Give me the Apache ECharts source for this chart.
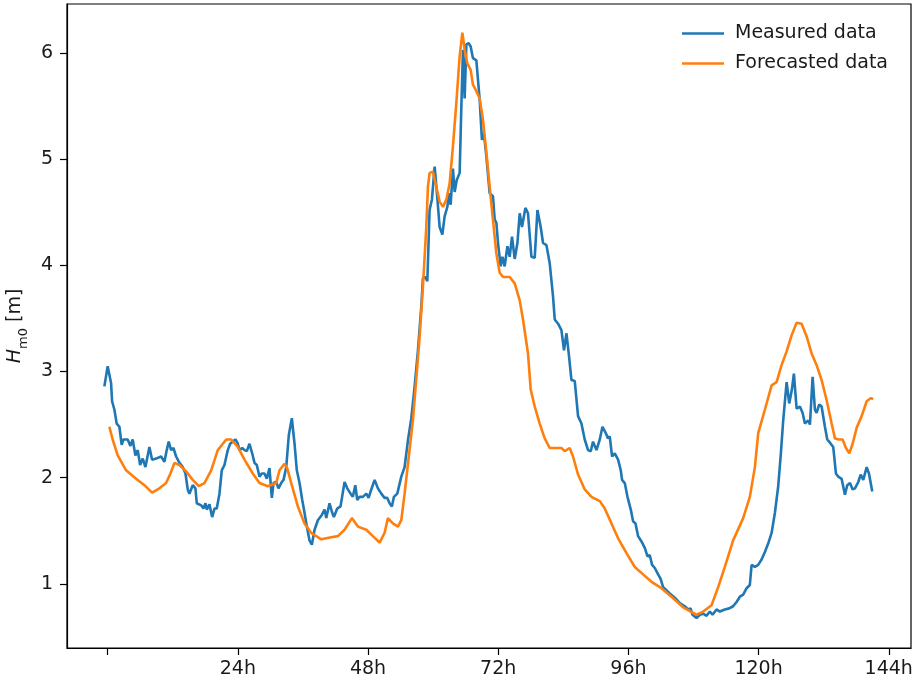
<!DOCTYPE html>
<html>
<head>
<meta charset="utf-8">
<script src="https://cdn.jsdelivr.net/npm/echarts@6/dist/echarts.min.js"></script>
<style>
  html, body { margin: 0; padding: 0; background: #fff; }
  #chart { width: 914px; height: 688px; }
</style>
</head>
<body>
<div id="chart"></div>
<script>
// ---- Data (hours, significant wave height Hm0 in m) ----
const measuredHours = [
  -0.61, 0.00, 0.63, 0.81, 1.24, 1.66, 2.16, 2.58, 2.90, 3.69, 4.19, 4.61, 5.11, 5.54, 5.98, 6.46, 6.96, 7.69, 8.19, 8.93,
  9.85, 10.46, 10.89, 11.25, 11.70, 12.12, 12.62, 13.23, 13.84, 14.34, 14.76, 15.07, 15.68, 16.18, 16.42, 17.23, 17.66, 18.03, 18.27, 18.76,
  19.26, 19.69, 20.11, 20.61, 21.03, 21.53, 22.14, 22.58, 23.06, 23.56, 23.99, 24.30, 24.80, 25.22, 25.65, 26.14, 26.64, 27.07, 27.49, 27.99,
  28.41, 28.91, 29.34, 29.83, 30.26, 30.57, 31.07, 31.49, 31.99, 32.42, 32.92, 33.39, 33.95, 34.45, 34.87, 35.37, 35.87, 36.29, 36.72, 37.21,
  37.64, 38.14, 38.75, 39.48, 39.98, 40.30, 40.90, 41.33, 41.70, 42.32, 42.93, 43.67, 44.17, 44.78, 45.20, 45.65, 46.01, 46.44, 47.05, 47.68,
  48.10, 48.47, 49.21, 49.82, 50.44, 51.05, 51.55, 51.97, 52.40, 52.77, 53.39, 54.13, 54.74, 55.35, 55.98, 56.59, 57.20, 57.82, 58.12, 58.56,
  58.93, 59.35, 59.78, 60.28, 60.70, 61.20, 61.70, 62.12, 62.62, 62.92, 63.23, 63.65, 63.97, 64.34, 64.89, 65.20, 65.50, 65.81, 66.13, 66.55,
  66.92, 67.34, 67.97, 68.27, 68.58, 69.00, 69.37, 69.82, 70.42, 70.74, 71.03, 71.35, 71.66, 71.96, 72.45, 72.77, 73.19, 73.69, 74.11, 74.54,
  75.04, 75.54, 75.96, 76.38, 77.01, 77.49, 78.12, 78.73, 79.23, 79.83, 80.26, 80.89, 81.49, 82.10, 82.42, 83.03, 83.65, 84.13, 84.58, 85.00,
  85.50, 86.11, 86.72, 87.34, 87.95, 88.56, 89.06, 89.48, 90.11, 90.72, 91.22, 91.83, 92.25, 92.56, 92.99, 93.49, 94.10, 94.59, 94.83, 95.33,
  95.83, 96.44, 96.86, 97.31, 97.79, 98.41, 99.02, 99.52, 99.94, 100.37, 100.87, 101.48, 101.92, 102.40, 103.03, 103.63, 104.56, 105.48, 106.40, 107.01,
  107.45, 107.82, 108.56, 109.17, 109.78, 110.41, 111.01, 111.51, 112.25, 112.86, 113.78, 114.58, 115.31, 115.94, 116.55, 117.16, 117.79, 118.39, 118.71, 119.32,
  119.93, 120.55, 121.16, 121.77, 122.40, 123.01, 123.62, 124.11, 124.54, 125.17, 125.65, 126.14, 126.51, 127.01, 127.62, 128.12, 128.54, 129.15, 129.47, 129.96,
  130.39, 130.70, 131.18, 131.62, 132.23, 132.66, 133.16, 133.76, 134.26, 134.69, 135.31, 135.92, 136.35, 136.85, 137.34, 137.77, 138.38, 138.82, 139.30, 139.93,
  140.35, 140.96
];
const measuredValues = [
  2.86, 3.05, 2.89, 2.72, 2.64, 2.51, 2.48, 2.31, 2.36, 2.36, 2.30, 2.36, 2.21, 2.26, 2.12, 2.18, 2.10, 2.29, 2.17, 2.18,
  2.20, 2.15, 2.26, 2.34, 2.26, 2.28, 2.20, 2.14, 2.10, 2.04, 1.89, 1.85, 1.93, 1.90, 1.76, 1.74, 1.71, 1.76, 1.70, 1.75,
  1.63, 1.71, 1.71, 1.85, 2.07, 2.12, 2.26, 2.32, 2.34, 2.36, 2.32, 2.26, 2.28, 2.26, 2.25, 2.32, 2.23, 2.14, 2.12, 2.01,
  2.04, 2.04, 1.99, 2.09, 1.81, 1.95, 1.96, 1.90, 1.95, 1.98, 2.10, 2.40, 2.56, 2.32, 2.07, 1.95, 1.79, 1.67, 1.54, 1.41,
  1.37, 1.51, 1.60, 1.65, 1.70, 1.62, 1.76, 1.68, 1.63, 1.71, 1.73, 1.96, 1.90, 1.85, 1.82, 1.93, 1.79, 1.82, 1.82, 1.85,
  1.81, 1.87, 1.98, 1.90, 1.85, 1.81, 1.81, 1.76, 1.73, 1.82, 1.85, 2.01, 2.10, 2.35, 2.56, 2.86, 3.20, 3.61, 3.88, 3.89,
  3.85, 4.52, 4.62, 4.93, 4.68, 4.36, 4.29, 4.46, 4.55, 4.68, 4.57, 4.91, 4.69, 4.80, 4.87, 5.49, 6.03, 5.57, 6.08, 6.09,
  6.06, 5.95, 5.93, 5.92, 5.56, 5.18, 5.24, 5.02, 4.68, 4.69, 4.65, 4.43, 4.40, 4.21, 3.99, 4.08, 3.99, 4.18, 4.08, 4.27,
  4.06, 4.21, 4.49, 4.36, 4.54, 4.49, 4.08, 4.07, 4.52, 4.36, 4.21, 4.19, 4.02, 3.71, 3.49, 3.45, 3.39, 3.20, 3.36, 3.17,
  2.92, 2.91, 2.58, 2.51, 2.36, 2.26, 2.25, 2.34, 2.26, 2.36, 2.48, 2.42, 2.37, 2.39, 2.20, 2.23, 2.17, 2.07, 1.98, 1.95,
  1.82, 1.70, 1.59, 1.57, 1.45, 1.40, 1.34, 1.26, 1.27, 1.18, 1.15, 1.09, 1.05, 0.97, 0.94, 0.91, 0.87, 0.82, 0.79, 0.76,
  0.77, 0.71, 0.68, 0.71, 0.72, 0.70, 0.74, 0.71, 0.76, 0.74, 0.76, 0.77, 0.79, 0.83, 0.88, 0.90, 0.96, 0.99, 1.18, 1.16,
  1.18, 1.23, 1.30, 1.38, 1.48, 1.67, 1.92, 2.23, 2.54, 2.90, 2.70, 2.83, 2.98, 2.65, 2.67, 2.61, 2.51, 2.54, 2.50, 2.95,
  2.64, 2.61, 2.69, 2.67, 2.48, 2.36, 2.33, 2.29, 2.04, 2.01, 1.99, 1.84, 1.93, 1.95, 1.89, 1.90, 1.96, 2.03, 1.98, 2.10,
  2.04, 1.87
];
const forecastHours = [
  0.31, 0.92, 1.85, 3.39, 5.24, 6.77, 8.19, 9.54, 10.77, 11.57, 12.31, 13.23, 14.46, 15.68, 16.79, 17.84, 19.08, 20.30, 21.85, 22.77,
  23.99, 25.22, 26.75, 27.99, 29.52, 31.07, 31.68, 32.60, 33.10, 33.84, 35.06, 36.29, 37.53, 39.37, 41.22, 42.44, 43.67, 45.02, 46.13, 47.68,
  48.89, 50.13, 51.05, 51.66, 52.58, 53.51, 54.13, 54.74, 56.27, 56.88, 57.51, 58.12, 58.74, 59.04, 59.35, 59.96, 60.59, 61.20, 61.81, 62.44,
  63.04, 63.65, 64.28, 64.89, 65.39, 65.81, 66.31, 66.92, 67.34, 67.97, 68.58, 69.19, 69.82, 70.42, 71.03, 71.66, 72.27, 72.88, 74.11, 75.04,
  75.96, 76.57, 77.49, 77.99, 78.73, 79.65, 80.57, 81.49, 82.73, 83.65, 84.26, 85.18, 85.79, 86.72, 87.95, 89.19, 90.72, 91.64, 92.88, 94.10,
  95.65, 97.18, 98.71, 100.26, 102.10, 103.95, 106.09, 108.56, 109.78, 111.33, 112.55, 113.78, 115.31, 117.16, 118.39, 119.32, 119.93, 121.16, 122.40, 123.32,
  124.24, 125.17, 126.09, 127.01, 127.93, 128.86, 129.78, 130.70, 131.62, 132.55, 133.47, 134.08, 134.87, 135.50, 136.11, 136.73, 137.34, 138.08, 139.00, 139.93,
  140.72, 141.14
];
const forecastValues = [
  2.48, 2.36, 2.21, 2.07, 1.99, 1.93, 1.86, 1.90, 1.95, 2.04, 2.14, 2.12, 2.06, 1.98, 1.92, 1.95, 2.07, 2.26, 2.36, 2.36,
  2.29, 2.17, 2.04, 1.95, 1.92, 1.95, 2.07, 2.13, 2.09, 1.95, 1.73, 1.57, 1.48, 1.42, 1.44, 1.45, 1.51, 1.62, 1.54, 1.51,
  1.45, 1.39, 1.48, 1.62, 1.57, 1.54, 1.60, 1.85, 2.54, 2.92, 3.33, 3.80, 4.36, 4.74, 4.87, 4.88, 4.74, 4.60, 4.55, 4.62,
  4.77, 5.12, 5.53, 5.97, 6.19, 6.03, 5.90, 5.84, 5.70, 5.64, 5.57, 5.37, 5.06, 4.74, 4.43, 4.11, 3.93, 3.89, 3.89, 3.83,
  3.67, 3.49, 3.17, 2.83, 2.67, 2.51, 2.37, 2.28, 2.28, 2.28, 2.25, 2.28, 2.20, 2.03, 1.89, 1.82, 1.78, 1.71, 1.57, 1.43,
  1.29, 1.16, 1.09, 1.02, 0.96, 0.88, 0.78, 0.71, 0.74, 0.80, 0.97, 1.16, 1.41, 1.62, 1.82, 2.10, 2.42, 2.64, 2.87, 2.90,
  3.06, 3.19, 3.34, 3.46, 3.45, 3.33, 3.17, 3.06, 2.92, 2.73, 2.51, 2.37, 2.36, 2.36, 2.28, 2.23, 2.32, 2.47, 2.58, 2.72,
  2.75, 2.74
];
const xTickValues = [0, 24, 48, 72, 96, 120, 144];
const xLabelValues = [24, 48, 72, 96, 120, 144];
const yTickValues = [1, 2, 3, 4, 5, 6];
const seriesNames = ['Measured data', 'Forecasted data'];

const zip = (xs, ys) => xs.map((x, i) => [x, ys[i]]);

const FONT = 'DejaVu Sans';
const TEXT = '#1a1a1a';
const chart = echarts.init(document.getElementById('chart'), null, { renderer: 'canvas' });
chart.setOption({
  animation: false,
  backgroundColor: '#ffffff',
  grid: {
    left: 67, right: 3, top: 4, bottom: 40,
    containLabel: false,
    outerBoundsMode: 'none',
    show: true, borderColor: '#000', borderWidth: 1.2, backgroundColor: 'transparent'
  },
  legend: {
    orient: 'vertical',
    left: 677, top: 19,
    icon: 'rect',
    itemWidth: 42, itemHeight: 2.6, itemGap: 11,
    textStyle: { fontFamily: FONT, fontSize: 19, color: TEXT, padding: [0, 0, 0, 6] },
    data: seriesNames
  },
  xAxis: {
    type: 'value',
    min: -7.5, max: 148.1,
    axisLine: { show: true, onZero: false, lineStyle: { color: '#000', width: 1.2 } },
    axisTick: { show: true, customValues: xTickValues, length: 7, lineStyle: { color: '#000', width: 1.2 } },
    axisLabel: {
      customValues: xLabelValues, margin: 12,
      formatter: v => v + 'h',
      fontFamily: FONT, fontSize: 19, color: TEXT
    },
    splitLine: { show: false }
  },
  yAxis: {
    type: 'value',
    min: 0.397, max: 6.46,
    axisLine: { show: true, onZero: false, lineStyle: { color: '#000', width: 1.2 } },
    axisTick: { show: true, customValues: yTickValues, length: 7, lineStyle: { color: '#000', width: 1.2 } },
    axisLabel: {
      customValues: yTickValues, margin: 14,
      fontFamily: FONT, fontSize: 19, color: TEXT
    },
    splitLine: { show: false },
    name: '{h|H}{s|m0}{n| [m]}',
    nameLocation: 'middle',
    nameRotate: 90,
    nameGap: 34,
    nameTextStyle: {
      fontFamily: FONT, color: TEXT,
      rich: {
        h: { fontFamily: FONT, fontSize: 19, fontStyle: 'italic', color: TEXT, lineHeight: 24, verticalAlign: 'middle' },
        s: { fontFamily: FONT, fontSize: 13, color: TEXT, lineHeight: 13, verticalAlign: 'middle', padding: [16, 0, 0, 0] },
        n: { fontFamily: FONT, fontSize: 19, color: TEXT, lineHeight: 24, verticalAlign: 'middle' }
      }
    }
  },
  series: [
    {
      name: seriesNames[0], type: 'line', data: zip(measuredHours, measuredValues),
      symbol: 'none', color: '#1f77b4', lineStyle: { width: 2.6, color: '#1f77b4' }, z: 2
    },
    {
      name: seriesNames[1], type: 'line', data: zip(forecastHours, forecastValues),
      symbol: 'none', color: '#ff7f0e', lineStyle: { width: 2.6, color: '#ff7f0e' }, z: 3
    }
  ]
});
</script>
</body>
</html>
